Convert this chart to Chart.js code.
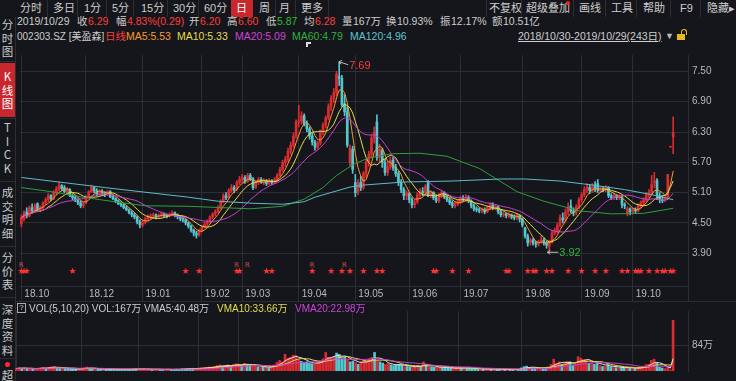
<!DOCTYPE html>
<html><head><meta charset="utf-8">
<script src="https://cdn.jsdelivr.net/npm/chart.js@4.4.1/dist/chart.umd.min.js"></script>
<style>
*{box-sizing:border-box}
html,body{margin:0;padding:0;}
body{width:736px;height:381px;overflow:hidden;position:relative;background:#15161b;font-family:"Liberation Sans","Noto Sans CJK SC",sans-serif;font-size:10.5px;color:#cdcdcd;}
.t{position:absolute;white-space:nowrap;line-height:13px;}
.tb{font-size:11px}
.s10{font-size:10px}
.red{color:#ff3c3c}.grn{color:#2dbf2d}.org{color:#f39b2f}.yel{color:#e4dc4a}.mag{color:#cf42dc}.gr6{color:#33b03f}.teal{color:#5cc4d0}
.vs{position:absolute;width:1px;background:#2c2e34}
.hs{position:absolute;height:1px;background:#2c2e34}
.sb{position:absolute;left:0;width:15px;text-align:center;font-family:"Noto Sans CJK SC","Liberation Sans",sans-serif;font-size:11.5px;line-height:13.5px;color:#c8c8c8}
canvas{position:absolute;display:block}
</style></head><body>

<!-- toolbar -->
<div class="t" style="left:231px;top:0;width:22px;height:17px;background:#c7272d"></div>
<div class="t tb" style="left:20px;top:2px">分时</div>
<div class="t tb" style="left:53px;top:2px">多日</div>
<div class="t tb" style="left:84px;top:2px">1分</div>
<div class="t tb" style="left:112px;top:2px">5分</div>
<div class="t tb" style="left:141px;top:2px">15分</div>
<div class="t tb" style="left:173px;top:2px">30分</div>
<div class="t tb" style="left:204px;top:2px">60分</div>
<div class="t tb" style="left:236px;top:2px;color:#fff">日</div>
<div class="t tb" style="left:259px;top:2px">周</div>
<div class="t tb" style="left:279px;top:2px">月</div>
<div class="t tb" style="left:301px;top:2px">更多</div>
<div class="vs" style="left:47px;top:0;height:17px"></div>
<div class="vs" style="left:77px;top:0;height:17px"></div>
<div class="vs" style="left:106px;top:0;height:17px"></div>
<div class="vs" style="left:133px;top:0;height:17px"></div>
<div class="vs" style="left:167px;top:0;height:17px"></div>
<div class="vs" style="left:198px;top:0;height:17px"></div>
<div class="vs" style="left:275px;top:0;height:17px"></div>
<div class="vs" style="left:295px;top:0;height:17px"></div>
<div class="vs" style="left:328px;top:0;height:17px"></div>
<div class="t tb" style="left:489px;top:2px">不复权</div>
<div class="t tb" style="left:526px;top:2px">超级叠加</div>
<div class="t" style="left:566px;top:1px;width:4px;height:4px;border-radius:2px;background:#ff2020"></div>
<div class="t tb" style="left:579px;top:2px">画线</div>
<div class="t tb" style="left:611px;top:2px">工具</div>
<div class="t tb" style="left:643px;top:2px">帮助</div>
<div class="t tb" style="left:680px;top:2px">F9</div>
<div class="t tb" style="left:707px;top:2px">隐藏▸</div>
<div class="vs" style="left:486px;top:0;height:17px"></div>
<div class="vs" style="left:521px;top:0;height:17px"></div>
<div class="vs" style="left:573px;top:0;height:17px"></div>
<div class="vs" style="left:605px;top:0;height:17px"></div>
<div class="vs" style="left:636px;top:0;height:17px"></div>
<div class="vs" style="left:670px;top:0;height:17px"></div>
<div class="vs" style="left:700px;top:0;height:17px"></div>

<!-- info row -->
<div class="t" style="left:17px;top:15px">2019/10/29</div>
<div class="t" style="left:77px;top:15px">收</div><div class="t red" style="left:88px;top:15px">6.29</div>
<div class="t" style="left:116px;top:15px">幅</div><div class="t red" style="left:127px;top:15px">4.83%(0.29)</div>
<div class="t" style="left:189px;top:15px">开</div><div class="t red" style="left:200px;top:15px">6.20</div>
<div class="t" style="left:227px;top:15px">高</div><div class="t red" style="left:238px;top:15px">6.60</div>
<div class="t" style="left:266px;top:15px">低</div><div class="t grn" style="left:277px;top:15px">5.87</div>
<div class="t" style="left:304px;top:15px">均</div><div class="t red" style="left:315px;top:15px">6.28</div>
<div class="t" style="left:342px;top:15px">量</div><div class="t" style="left:353px;top:15px">167万</div>
<div class="t" style="left:386px;top:15px">换</div><div class="t" style="left:397px;top:15px">10.93%</div>
<div class="t" style="left:440px;top:15px">振</div><div class="t" style="left:451px;top:15px">12.17%</div>
<div class="t" style="left:492px;top:15px">额</div><div class="t" style="left:503px;top:15px">10.51亿</div>

<!-- MA row -->
<div class="t s10" style="left:17px;top:30px">002303.SZ [美盈森]</div>
<div class="t red" style="left:105px;top:30px">日线</div>
<div class="t org" style="left:126px;top:30px">MA5:5.53</div>
<div class="t yel" style="left:177px;top:30px">MA10:5.33</div>
<div class="t mag" style="left:235px;top:30px">MA20:5.09</div>
<div class="t gr6" style="left:292px;top:30px">MA60:4.79</div>
<div class="t teal" style="left:350px;top:30px">MA120:4.96</div>
<div class="t" style="left:518px;top:30px;text-decoration:underline">2018/10/30-2019/10/29(243日)</div>
<div class="t" style="left:665px;top:30px;font-size:9px;color:#bbb">▼</div>
<div class="t" style="left:677px;top:34px;width:8px;height:6px;background:#e8b820"></div>
<div class="t" style="left:681px;top:29px;width:6px;height:6px;border:1.5px solid #e8b820;border-bottom:none;border-radius:3px 3px 0 0"></div>
<div class="t" style="left:306px;top:42px;width:5px;height:5px;border-left:2px solid #ddd;border-top:2px solid #ddd"></div>

<!-- sidebar -->
<div class="vs" style="left:15px;top:17px;height:364px"></div>
<div class="sb" style="top:18px">分<br>时<br>图</div>
<div class="hs" style="left:0;top:61px;width:15px"></div>
<div class="t" style="left:0;top:63px;width:15px;height:54px;background:#c7272d"></div>
<div class="sb" style="top:70px;color:#fff">K<br>线<br>图</div>
<div class="hs" style="left:0;top:118px;width:15px"></div>
<div class="sb" style="top:121px">T<br>I<br>C<br>K</div>
<div class="hs" style="left:0;top:181px;width:15px"></div>
<div class="sb" style="top:186px">成<br>交<br>明<br>细</div>
<div class="hs" style="left:0;top:246px;width:15px"></div>
<div class="sb" style="top:251px">分<br>价<br>表</div>
<div class="hs" style="left:0;top:297px;width:15px"></div>
<div class="sb" style="top:303px">深<br>度<br>资<br>料</div>
<div class="hs" style="left:0;top:358px;width:15px"></div>
<div class="t" style="left:5px;top:362px;width:5px;height:5px;border-radius:3px;background:#ff2a2a"></div>
<div class="sb" style="top:369px">超</div>

<canvas id="price" width="721" height="256" style="left:15px;top:45px"></canvas>
<div class="hs" style="left:15px;top:301px;width:721px"></div>
<div class="vs" style="left:688px;top:285px;height:17px"></div>
<canvas id="vol" width="721" height="80" style="left:15px;top:301px"></canvas>

<!-- volume header -->
<div class="t" style="left:17px;top:303px;width:9px;height:10px;border:1px solid #aaa;font-size:8px;line-height:8px;text-align:center">?</div>
<div class="t s10" style="left:29px;top:302px">VOL(5,10,20) VOL:167万 VMA5:40.48万</div>
<div class="t s10 yel" style="left:217px;top:302px">VMA10:33.66万</div>
<div class="t s10 mag" style="left:295px;top:302px">VMA20:22.98万</div>

<script>
// ---------------- data ----------------
const opens = [
4.48,4.58,4.72,4.64,4.80,4.74,4.88,4.76,4.80,4.90,
4.96,5.04,4.98,5.10,5.18,5.24,5.20,5.12,5.16,5.04,
5.00,4.96,4.90,4.84,4.90,5.02,5.12,5.20,5.14,5.08,
5.12,5.10,5.06,5.12,5.02,4.98,4.94,4.88,4.86,4.80,
4.76,4.70,4.66,4.62,4.52,4.46,4.52,4.58,4.62,4.64,
4.66,4.62,4.64,4.68,4.66,4.64,4.66,4.70,4.66,4.62,
4.58,4.56,4.50,4.44,4.36,4.30,4.26,4.34,4.42,4.48,
4.52,4.62,4.68,4.72,4.80,4.92,5.04,5.00,5.14,5.20,
5.16,5.30,5.36,5.40,5.32,5.44,5.38,5.20,5.30,5.36,
5.32,5.34,5.28,5.34,5.30,5.36,5.44,5.56,5.70,5.76,
5.92,6.04,6.22,6.50,6.52,6.62,6.46,6.36,6.22,6.10,
6.00,6.08,6.30,6.44,6.58,6.80,6.96,7.08,7.40,7.36,
6.86,6.70,5.70,5.96,5.30,5.12,5.30,5.20,5.48,5.70,
5.86,6.18,6.50,5.80,5.94,5.70,5.50,5.62,5.74,5.60,
5.48,5.30,5.16,5.04,5.08,4.96,4.86,4.92,5.06,5.12,
5.10,5.30,5.06,5.10,5.00,4.94,5.04,5.10,5.02,4.96,
4.90,4.84,4.88,4.92,4.98,4.96,5.00,4.94,4.84,4.78,
4.76,4.74,4.76,4.72,4.80,4.86,4.80,4.82,4.72,4.66,
4.68,4.64,4.66,4.62,4.60,4.64,4.58,4.40,4.24,4.12,
4.16,4.10,4.08,4.14,4.16,4.10,4.04,4.12,4.30,4.34,
4.46,4.60,4.56,4.72,4.84,4.74,4.70,4.82,4.96,5.06,
5.16,5.20,5.14,5.26,5.28,5.14,5.18,5.16,5.20,5.04,
5.00,5.04,5.00,5.02,4.86,4.70,4.78,4.72,4.76,4.74,
4.84,4.90,4.96,5.06,5.10,5.30,5.34,5.04,4.96,4.94,
4.98,6.00,6.20];
const highs = [
4.66,4.74,4.80,4.84,4.88,4.88,4.90,4.84,4.92,5.00,
5.08,5.06,5.14,5.22,5.31,5.26,5.24,5.20,5.18,5.08,
5.04,4.98,4.94,4.92,5.04,5.14,5.25,5.22,5.18,5.16,
5.16,5.12,5.14,5.14,5.06,5.00,4.96,4.92,4.88,4.84,
4.78,4.74,4.70,4.64,4.56,4.56,4.62,4.66,4.68,4.70,
4.68,4.68,4.72,4.70,4.68,4.70,4.74,4.72,4.68,4.64,
4.62,4.58,4.52,4.46,4.38,4.34,4.38,4.44,4.52,4.56,
4.64,4.70,4.76,4.84,4.96,5.08,5.10,5.18,5.26,5.24,
5.34,5.42,5.46,5.44,5.48,5.48,5.40,5.34,5.40,5.40,
5.38,5.36,5.38,5.36,5.40,5.48,5.60,5.74,5.82,5.98,
6.10,6.28,6.54,6.83,6.70,6.66,6.52,6.40,6.28,6.14,
6.12,6.34,6.48,6.62,6.86,7.02,7.16,7.50,7.69,7.42,
7.04,6.80,6.04,6.02,5.46,5.36,5.42,5.52,5.76,5.92,
6.24,6.40,6.64,6.06,5.98,5.76,5.70,5.80,5.80,5.66,
5.52,5.36,5.20,5.14,5.10,5.00,4.96,5.10,5.18,5.20,
5.26,5.34,5.14,5.12,5.04,5.08,5.14,5.12,5.06,5.00,
4.94,4.92,4.96,5.02,5.04,5.06,5.04,4.96,4.88,4.82,
4.80,4.80,4.80,4.84,4.90,4.90,4.86,4.84,4.76,4.72,
4.70,4.70,4.68,4.66,4.68,4.66,4.60,4.42,4.28,4.20,
4.20,4.14,4.16,4.24,4.20,4.14,4.16,4.34,4.40,4.50,
4.66,4.70,4.78,4.90,4.96,4.80,4.86,5.00,5.10,5.22,
5.28,5.26,5.28,5.32,5.36,5.22,5.22,5.24,5.22,5.08,
5.08,5.06,5.06,5.04,4.90,4.82,4.80,4.80,4.80,4.88,
4.94,5.00,5.10,5.16,5.44,5.50,5.38,5.10,5.04,5.02,
5.46,6.00,6.60];
const lows = [
4.42,4.54,4.60,4.62,4.70,4.72,4.74,4.72,4.78,4.86,
4.92,4.94,4.96,5.06,5.14,5.14,5.10,5.08,5.02,4.96,
4.92,4.86,4.80,4.80,4.88,5.00,5.10,5.10,5.04,5.04,
5.06,5.02,5.04,5.00,4.96,4.90,4.86,4.82,4.78,4.74,
4.68,4.62,4.58,4.48,4.40,4.42,4.48,4.54,4.58,4.60,
4.58,4.60,4.62,4.62,4.60,4.62,4.64,4.62,4.58,4.54,
4.52,4.46,4.40,4.32,4.24,4.20,4.24,4.32,4.40,4.44,
4.50,4.58,4.64,4.70,4.78,4.90,4.96,4.98,5.10,5.10,
5.14,5.26,5.30,5.28,5.30,5.34,5.16,5.18,5.26,5.28,
5.26,5.24,5.26,5.26,5.28,5.34,5.42,5.52,5.62,5.72,
5.86,6.00,6.18,6.40,6.46,6.42,6.30,6.16,6.04,5.94,
5.96,6.04,6.24,6.38,6.54,6.72,6.88,7.02,7.22,6.80,
6.62,6.00,5.62,5.48,5.02,5.06,5.14,5.16,5.40,5.62,
5.80,6.08,5.74,5.70,5.60,5.44,5.44,5.56,5.54,5.42,
5.24,5.10,4.96,4.96,4.90,4.80,4.80,4.88,5.00,5.04,
5.06,5.02,5.00,4.96,4.90,4.90,5.00,4.98,4.92,4.86,
4.80,4.80,4.84,4.88,4.92,4.92,4.90,4.80,4.74,4.72,
4.70,4.70,4.68,4.70,4.76,4.76,4.76,4.68,4.62,4.62,
4.60,4.60,4.58,4.56,4.56,4.52,4.42,4.20,4.04,4.06,
4.06,4.02,4.04,4.10,4.06,4.00,3.92,4.10,4.26,4.30,
4.42,4.50,4.52,4.66,4.70,4.64,4.66,4.78,4.92,5.02,
5.10,5.08,5.10,5.12,5.10,5.10,5.12,5.12,5.00,4.96,
4.96,4.96,4.96,4.80,4.78,4.64,4.66,4.68,4.70,4.72,
4.80,4.86,4.92,5.00,5.06,5.20,4.96,4.90,4.90,4.92,
4.96,6.00,5.87];
const closes = [
4.60,4.70,4.64,4.80,4.74,4.84,4.76,4.80,4.90,4.96,
5.04,4.98,5.10,5.18,5.24,5.18,5.12,5.16,5.04,5.00,
4.96,4.90,4.84,4.88,5.02,5.12,5.20,5.14,5.08,5.12,
5.10,5.06,5.12,5.02,4.98,4.94,4.88,4.86,4.80,4.76,
4.70,4.66,4.62,4.52,4.46,4.52,4.58,4.62,4.64,4.66,
4.62,4.64,4.68,4.66,4.64,4.66,4.70,4.66,4.62,4.58,
4.56,4.50,4.44,4.36,4.30,4.26,4.34,4.42,4.48,4.52,
4.62,4.68,4.72,4.80,4.92,5.04,5.00,5.14,5.20,5.16,
5.30,5.36,5.40,5.32,5.44,5.36,5.20,5.30,5.36,5.32,
5.34,5.28,5.34,5.30,5.36,5.44,5.56,5.70,5.76,5.92,
6.04,6.22,6.50,6.52,6.62,6.46,6.36,6.22,6.10,6.00,
6.08,6.30,6.44,6.58,6.80,6.96,7.08,7.44,7.36,6.84,
6.70,6.04,5.98,5.56,5.10,5.30,5.20,5.48,5.70,5.86,
6.18,6.30,5.80,5.96,5.70,5.50,5.62,5.74,5.60,5.48,
5.30,5.16,5.04,5.10,4.96,4.86,4.90,5.06,5.12,5.10,
5.22,5.06,5.10,5.00,4.94,5.04,5.10,5.02,4.96,4.90,
4.84,4.88,4.92,4.98,4.96,5.00,4.94,4.84,4.78,4.76,
4.74,4.76,4.72,4.80,4.86,4.80,4.82,4.72,4.66,4.68,
4.64,4.66,4.62,4.60,4.64,4.58,4.46,4.24,4.10,4.16,
4.10,4.08,4.12,4.16,4.10,4.06,4.12,4.30,4.34,4.46,
4.60,4.56,4.72,4.80,4.74,4.70,4.82,4.96,5.06,5.16,
5.20,5.14,5.22,5.18,5.14,5.18,5.16,5.20,5.04,5.00,
5.04,5.00,5.02,4.86,4.84,4.78,4.72,4.76,4.74,4.84,
4.90,4.96,5.06,5.10,5.26,5.30,5.04,4.96,4.94,4.96,
5.46,6.00,6.29];
const volumes = [ // 万手
8,10,9,10,7,8,8,6,9,11,
12,9,12,14,15,10,9,8,8,7,
6,6,7,6,9,11,13,9,7,7,
6,6,7,7,6,6,5,5,6,5,
6,6,5,7,8,6,7,6,5,6,
5,5,6,5,5,5,6,5,5,6,
5,7,7,8,8,9,8,9,10,11,
12,13,13,15,18,20,16,18,20,15,
22,24,22,18,25,20,22,16,17,14,
13,12,14,11,15,20,28,35,30,55,
42,45,52,50,38,32,28,30,26,24,
22,30,34,40,61,45,42,48,59,55,
40,45,38,30,32,28,22,30,35,32,
40,45,61,35,30,26,22,24,20,18,
20,22,20,14,15,14,12,16,18,14,
30,22,14,13,12,12,13,11,10,10,
9,8,9,12,10,11,9,10,8,7,
6,6,5,7,9,7,6,7,6,5,
5,4,5,5,6,6,10,14,16,12,
10,9,9,10,9,10,14,22,39,25,
30,22,28,32,30,20,24,47,42,38,
35,25,28,22,30,18,15,16,20,14,
12,11,10,14,10,12,9,8,7,12,
14,16,21,22,35,39,25,13,10,8,
14,3.4,167];
// MA60 / MA120 (they depend on data before the window)
const ma60Pts = [[0,5.20],[11,5.12],[24,5.00],[36,4.91],[46,4.84],[62,4.83],[85,4.78],[97,4.83],[105,4.97],[112,5.20],[117,5.44],[123,5.65],[129,5.79],[138,5.87],[148,5.88],[158,5.82],[170,5.58],[177,5.35],[184,5.12],[194,4.93],[207,4.74],[219,4.68],[231,4.69],[242,4.79]];
const ma120Pts = [[0,5.40],[31,5.20],[62,5.01],[73,4.93],[86,4.89],[97,4.87],[105,4.92],[109,5.01],[122,5.21],[127,5.25],[142,5.31],[160,5.33],[178,5.37],[187,5.37],[200,5.33],[212,5.25],[224,5.16],[234,5.06],[242,4.96]];
const monthStarts = [0,24,45,67,82,103,124,144,163,186,208,227];
const monthLabels = ['18.10','18.12','19.01','19.02','19.03','19.04','19.05','19.06','19.07','19.08','19.09','19.10'];
const priceTicks = [3.90,4.50,5.10,5.70,6.30,6.90,7.50];
const volTicks = [84];
const starDays = [0,1,2,19,61,66,80,81,91,93,108,115,119,122,127,132,134,153,154,160,166,180,181,188,190,191,195,197,203,208,213,217,223,225,228,229,230,233,236,238,239,241,242];
const rDays = [0,80,84,108,120];

// ---------------- styling ----------------
const SLOTS = 248;
const UP = '#dc2a31', DOWN = '#54c6cf', GRID = '#2c2e34', TXT = '#b8b8b8';
const FONT = '"Liberation Sans","Noto Sans CJK SC",sans-serif';
const STAR_Y = 3.54, R_Y = 3.675;

const N = closes.length;
const labels = Array.from({length: SLOTS}, (_, i) => i);
const colors = closes.map((c, i) => c >= opens[i] ? UP : DOWN);
function ma(arr, n) {
  return arr.map((_, i) => { const s = Math.max(0, i - n + 1); let t = 0; for (let k = s; k <= i; k++) t += arr[k]; return t / (i - s + 1); });
}
function sparse(pts) { const a = new Array(N).fill(null); pts.forEach(([i, v]) => a[i] = v); return a; }
function glyph(ch, size, color, family) {
  const c = document.createElement('canvas'); c.width = size + 4; c.height = size + 4;
  const g = c.getContext('2d'); g.fillStyle = color; g.font = size + 'px ' + family;
  g.textAlign = 'center'; g.textBaseline = 'middle'; g.fillText(ch, c.width / 2, c.height / 2 + 0.5); return c;
}
const starImg = glyph('★', 9, '#ff3434', '"DejaVu Sans"');
const rImg = glyph('R', 7, '#e0505a', '"DejaVu Sans"');

const line = (label, data, color, extra) => Object.assign({type: 'line', label, data, borderColor: color, borderWidth: 1, pointRadius: 0, fill: false, tension: 0, order: 1, spanGaps: true}, extra || {});

function xScale(showTicks) {
  return {
    type: 'category', offset: true,
    grid: {offset: false, color: ctx => monthStarts.includes(ctx.index) ? GRID : 'transparent',
      tickColor: ctx => monthStarts.includes(ctx.index) ? GRID : 'transparent',
      drawTicks: showTicks, tickLength: 15},
    border: {display: showTicks, color: GRID},
    ticks: {display: showTicks, autoSkip: false, maxRotation: 0, minRotation: 0, align: 'start', labelOffset: 3, padding: -13,
      color: TXT, font: {size: 10, family: FONT},
      callback: (v, i) => { const k = monthStarts.indexOf(i); return k >= 0 ? monthLabels[k] : ''; }},
    afterFit: s => { s.height = showTicks ? 15 : 0; }
  };
}

const extremaPlugin = {
  id: 'extrema',
  afterDatasetsDraw(chart) {
    const {ctx, scales: {x, y}} = chart;
    const hi = Math.max(...highs), hiIdx = highs.indexOf(hi);
    const lo = Math.min(...lows), loIdx = lows.indexOf(lo);
    ctx.save();
    ctx.strokeStyle = '#bdbdbd'; ctx.lineWidth = 1; ctx.font = '11px ' + FONT; ctx.textBaseline = 'middle';
    let px = x.getPixelForValue(hiIdx), py = y.getPixelForValue(hi);
    ctx.beginPath(); ctx.moveTo(px, py); ctx.lineTo(px + 9, py + 3);
    ctx.moveTo(px, py); ctx.lineTo(px + 3, py - 1.5); ctx.moveTo(px, py); ctx.lineTo(px + 2, py + 2.5); ctx.stroke();
    ctx.fillStyle = '#ff3c3c'; ctx.fillText(hi.toFixed(2), px + 10, py + 4);
    px = x.getPixelForValue(loIdx); py = y.getPixelForValue(lo);
    ctx.beginPath(); ctx.moveTo(px - 2, py); ctx.lineTo(px + 9, py);
    ctx.moveTo(px - 2, py); ctx.lineTo(px + 1, py - 2); ctx.moveTo(px - 2, py); ctx.lineTo(px + 1, py + 2); ctx.stroke();
    ctx.fillStyle = '#2fb83a'; ctx.fillText(lo.toFixed(2), px + 10, py + 1);
    ctx.restore();
  }
};

new Chart(document.getElementById('price'), {
  type: 'bar',
  data: {
    labels,
    datasets: [
      {type: 'bar', data: lows.map((l, i) => [l, highs[i]]), backgroundColor: colors, barThickness: 1, grouped: false, order: 10},
      {type: 'bar', data: opens.map((o, i) => [o, closes[i]]), backgroundColor: colors, barThickness: 2, grouped: false, minBarLength: 1, order: 9},
      line('MA120', sparse(ma120Pts), '#5cbccb'),
      line('MA60', sparse(ma60Pts), '#2f9e3c'),
      line('MA20', ma(closes, 20), '#c940d6'),
      line('MA10', ma(closes, 10), '#e4dc4a'),
      line('MA5', ma(closes, 5), '#f39b2f'),
      {type: 'line', data: labels.map(i => starDays.includes(i) ? STAR_Y : null), showLine: false, pointStyle: starImg, pointRadius: 4, order: 0},
      {type: 'line', data: labels.map(i => rDays.includes(i) ? R_Y : null), showLine: false, pointStyle: rImg, pointRadius: 4, order: 0}
    ]
  },
  options: {
    responsive: false, animation: false, events: [],
    layout: {padding: 0},
    plugins: {legend: {display: false}, tooltip: {enabled: false}},
    scales: {
      x: xScale(true),
      y: {position: 'right', min: 3.2524, max: 7.8238,
        afterBuildTicks: s => { s.ticks = priceTicks.map(v => ({value: v})); },
        ticks: {color: TXT, font: {size: 10, family: FONT}, padding: 4, callback: v => Number(v).toFixed(2)},
        grid: {color: GRID, drawTicks: false}, border: {display: true, color: GRID},
        afterFit: s => { s.width = 48; }}
    }
  },
  plugins: [extremaPlugin]
});

new Chart(document.getElementById('vol'), {
  type: 'bar',
  data: {
    labels,
    datasets: [
      {type: 'bar', data: volumes, backgroundColor: colors, barThickness: 2, grouped: false, order: 10},
      line('VMA20', ma(volumes, 20), '#c940d6'),
      line('VMA10', ma(volumes, 10), '#e4dc4a'),
      line('VMA5', ma(volumes, 5), '#e6e6e6')
    ]
  },
  options: {
    responsive: false, animation: false, events: [],
    layout: {padding: 0},
    plugins: {legend: {display: false}, tooltip: {enabled: false}},
    scales: {
      x: xScale(false),
      y: {position: 'right', min: 0, max: 197.6,
        afterBuildTicks: s => { s.ticks = volTicks.map(v => ({value: v})); },
        ticks: {color: TXT, font: {size: 10, family: FONT}, padding: 4, callback: v => v + '万'},
        grid: {color: GRID, drawTicks: false}, border: {display: true, color: GRID},
        afterFit: s => { s.width = 48; }}
    }
  }
});
</script>
</body></html>
